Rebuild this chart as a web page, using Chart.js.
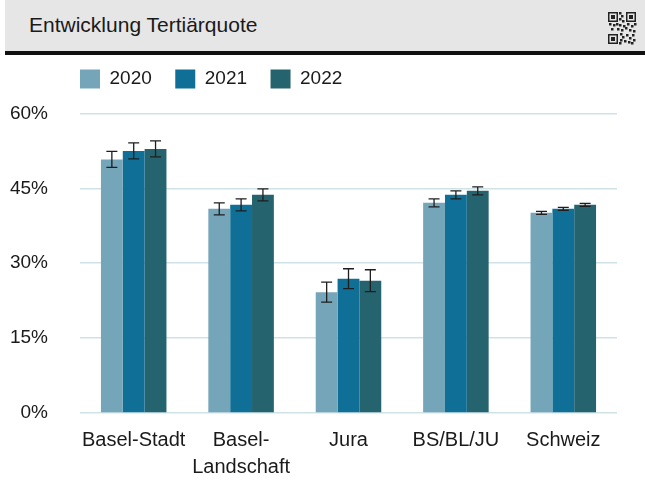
<!DOCTYPE html>
<html>
<head>
<meta charset="utf-8">
<script src="https://cdn.jsdelivr.net/npm/chart.js@4"></script>
<style>
  body { margin: 0; background: #fff; font-family: "Liberation Sans", Arial, sans-serif; }
  #header {
    position: absolute; left: 5px; top: 0; width: 640px; height: 51px;
    background: #e6e6e6; border-bottom: 4px solid #111;
  }
  #title { position: absolute; left: 24px; top: 13px; font-size: 21px; color: #1a1a1a; }
  #qr { position: absolute; left: 602px; top: 10px; }
  #wrap { position: absolute; left: 0; top: 55px; width: 645px; height: 426px; }
</style>
</head>
<body>
<div id="header">
  <div id="title">Entwicklung Tertiärquote</div>
  <canvas id="qr" width="30" height="36"></canvas>
</div>
<div id="wrap"><canvas id="chart"></canvas></div>
<script>
// Tertiärquote nach Region, mit Konfidenzintervall
const regions = ['Basel-Stadt', ['Basel-', 'Landschaft'], 'Jura', 'BS/BL/JU', 'Schweiz'];
const years = ['2020', '2021', '2022'];
const values2020 = [50.8, 40.9, 24.2, 42.1, 40.1];
const values2021 = [52.5, 41.7, 26.9, 43.7, 40.9];
const values2022 = [52.9, 43.7, 26.5, 44.5, 41.7];
const errors2020 = [1.6, 1.2, 2.0, 0.8, 0.3];
const errors2021 = [1.6, 1.2, 2.0, 0.8, 0.3];
const errors2022 = [1.6, 1.2, 2.2, 0.8, 0.3];
const yTicks = [0, 15, 30, 45, 60];

const colors = ['#74a5b8', '#0f6f97', '#25646e'];
const legendPad = 23.5;

// small QR-like icon in the header
(function drawQr() {
    const c = document.getElementById('qr').getContext('2d');
    const finder = (x, y) => {
        c.fillStyle = '#222'; c.fillRect(x, y, 10, 10);
        c.fillStyle = '#e6e6e6'; c.fillRect(x + 1.5, y + 1.5, 7, 7);
        c.fillStyle = '#222'; c.fillRect(x + 3, y + 3, 4, 4);
    };
    finder(1, 2); finder(19, 2); finder(1, 24);
    c.fillStyle = '#222';
    const dots = [[12,2],[14,5],[12,8],[15,10],[2,13],[6,14],[9,13],[12,14],[16,15],[20,13],[24,15],
                  [27,13],[4,18],[10,18],[14,19],[18,17],[22,19],[26,20],[13,23],[15,26],[19,24],
                  [22,27],[25,24],[13,29],[17,30],[21,31],[26,29],[12,32],[24,32]];
    dots.forEach(([x, y]) => c.fillRect(x, y, 2.5, 2.5));
})();

const errorBars = {
    id: 'errorBars',
    afterDatasetsDraw(chart) {
        const { ctx } = chart;
        const yScale = chart.scales.y;
        const errs = [errors2020, errors2021, errors2022];
        ctx.save();
        ctx.strokeStyle = '#1e1e1e';
        ctx.lineWidth = 1.3;
        chart.data.datasets.forEach((ds, i) => {
            const meta = chart.getDatasetMeta(i);
            meta.data.forEach((bar, j) => {
                const v = ds.data[j];
                const e = errs[i][j];
                const top = yScale.getPixelForValue(v + e);
                const bot = yScale.getPixelForValue(v - e);
                const x = bar.x;
                ctx.beginPath();
                ctx.moveTo(x, top); ctx.lineTo(x, bot);
                ctx.moveTo(x - 5.5, top); ctx.lineTo(x + 5.5, top);
                ctx.moveTo(x - 5.5, bot); ctx.lineTo(x + 5.5, bot);
                ctx.stroke();
            });
        });
        ctx.restore();
    }
};

// legend starts at the left edge of the plot, a bit higher
const legendShift = {
    id: 'legendShift',
    afterLayout(chart) {
        chart.legend.left = chart.chartArea.left - legendPad;
        chart.legend.top -= 15;
    }
};

const allValues = [values2020, values2021, values2022];

new Chart(document.getElementById('chart'), {
    type: 'bar',
    data: {
        labels: regions,
        datasets: years.map((y, i) => ({
            label: y,
            data: allValues[i],
            backgroundColor: colors[i],
            borderWidth: 0,
            barPercentage: 1.0,
            categoryPercentage: 0.61
        }))
    },
    options: {
        responsive: true,
        maintainAspectRatio: false,
        animation: false,
        layout: { padding: { left: 0, right: 28, top: 6, bottom: 0 } },
        plugins: {
            legend: {
                position: 'top',
                align: 'start',
                fullSize: false,
                labels: {
                    boxWidth: 20,
                    boxHeight: 19,
                    padding: legendPad,
                    color: '#1a1a1a',
                    font: { family: '"Liberation Sans", Arial, sans-serif', size: 19 }
                }
            },
            tooltip: { enabled: false }
        },
        scales: {
            x: {
                grid: { display: false, drawTicks: false },
                border: { display: false },
                afterFit: (scale) => { scale.height = 68; },
                ticks: {
                    color: '#1a1a1a',
                    padding: 14,
                    maxRotation: 0,
                    autoSkip: false,
                    font: { family: '"Liberation Sans", Arial, sans-serif', size: 20, lineHeight: 1.35 }
                }
            },
            y: {
                min: 0,
                max: 60,
                afterBuildTicks: (scale) => { scale.ticks = yTicks.map(v => ({ value: v })); },
                afterFit: (scale) => { scale.width = 80; },
                grid: { color: '#cfe2e8', lineWidth: 1.6, drawTicks: false },
                border: { display: false },
                ticks: {
                    color: '#1a1a1a',
                    padding: 32,
                    callback: (v) => v + '%',
                    font: { family: '"Liberation Sans", Arial, sans-serif', size: 19 }
                }
            }
        }
    },
    plugins: [errorBars, legendShift]
});
</script>
</body>
</html>
